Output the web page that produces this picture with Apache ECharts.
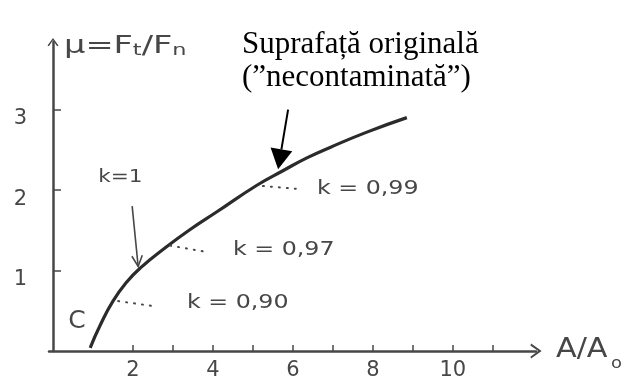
<!DOCTYPE html>
<html><head><meta charset="utf-8">
<script src="https://cdn.jsdelivr.net/npm/echarts@6/dist/echarts.min.js"></script>
<style>html,body{margin:0;padding:0;background:#fff}#c{width:628px;height:381px}</style>
</head><body><div id="c"></div>
<script>
// Friction coefficient vs. relative contact area
const areaRatio = [0.93, 1.18, 1.50, 1.85, 2.18, 2.80, 3.43, 4.10, 5.10, 5.75, 6.35, 6.93, 7.85, 8.85];
const friction  = [0.04, 0.32, 0.62, 0.86, 1.03, 1.28, 1.51, 1.73, 2.06, 2.24, 2.40, 2.53, 2.72, 2.90];

const xTicks = [2, 3, 4, 5, 6, 7, 8, 9, 10, 11];
const xTickLabels = [2, 4, 6, 8, 10];
const yTicks = [1, 2, 3];

// k annotations: dotted leader from the curve, then the text
const kLabels      = ['k = 0,90', 'k = 0,97', 'k = 0,99'];
const kLeaderStart = [[1.63, 0.62], [2.93, 1.31], [5.25, 2.05]];
const kLeaderEnd   = [[2.48, 0.56], [3.85, 1.23], [6.23, 2.01]];
const kTextPos     = [[3.35, 0.59], [4.50, 1.25], [6.60, 2.01]];

const kOneText = 'k=1';
const kOneTextPos = [1.13, 2.16];
const kOneArrow = [[1.98, 1.80], [2.13, 1.05]];

const pointC = 'C';
const pointCPos = [0.38, 0.37];

const noteLines = ['Suprafață originală', '(”necontaminată”)'];
const noteArrow = [[5.88, 3.00], [5.63, 2.26]];

const ink = '#474747';
const hand = '"DejaVu Sans", sans-serif';
const chevron = 'path://M0,14 L10,0 L20,14 L17.5,15 L10,4.5 L2.5,15 Z';

const chart = echarts.init(document.getElementById('c'), null, { renderer: 'canvas' });

const leaderData = kLeaderStart.map((s, i) => [{ coord: s }, { coord: kLeaderEnd[i] }]);

chart.setOption({
  animation: false,
  grid: { left: 49, right: 92, top: 42, bottom: 28 },
  xAxis: {
    type: 'value', min: -0.1, max: 12.08,
    axisLine: {
      lineStyle: { color: ink, width: 2.5 },
      symbol: ['none', chevron],
      symbolSize: [15, 12]
    },
    axisTick: { show: true, inside: true, length: 6, customValues: xTicks, lineStyle: { color: ink, width: 1.5 } },
    axisLabel: { customValues: xTickLabels, margin: 9, fontSize: 21, color: ink, fontFamily: hand },
    splitLine: { show: false }
  },
  yAxis: {
    type: 'value', min: 0, max: 3.84,
    axisLine: {
      show: true,
      lineStyle: { color: ink, width: 2.5 },
      symbol: ['none', chevron],
      symbolSize: [11, 10]
    },
    axisTick: { show: true, inside: true, length: 8, customValues: yTicks, lineStyle: { color: ink, width: 1.5 } },
    axisLabel: { customValues: yTicks, margin: 22, fontSize: 21, color: ink, fontFamily: hand, verticalAlign: 'top', lineHeight: 18 },
    splitLine: { show: false }
  },
  series: [{
    type: 'line',
    data: areaRatio.map((x, i) => [x, friction[i]]),
    smooth: 0.5,
    showSymbol: false,
    lineStyle: { color: '#2b2b2b', width: 3.2 },
    markLine: {
      silent: true,
      symbol: ['none', 'none'],
      label: { show: false },
      lineStyle: { color: ink, width: 2, type: [1, 7], cap: 'round' },
      data: leaderData
    }
  }]
});

const px = p => chart.convertToPixel({ gridIndex: 0 }, p);

const g = [];

function handText(text, p, size, sx) {
  return { type: 'text', x: p[0], y: p[1], scaleX: sx,
    style: { text: text, x: 0, y: 0, font: size + 'px ' + hand, fill: ink, verticalAlign: 'middle' } };
}

kLabels.forEach((t, i) => g.push(handText(t, px(kTextPos[i]), 19, 1.25)));
g.push(handText(kOneText, px(kOneTextPos), 18, 1.2));
g.push(handText(pointC, px(pointCPos), 25, 1));

(function () {
  // thin arrow pointing at k = 1
  const a = px(kOneArrow[0]), b = px(kOneArrow[1]);
  const ang = Math.atan2(b[1] - a[1], b[0] - a[0]);
  const L = 12, w = 0.45;
  g.push({ type: 'line', shape: { x1: a[0], y1: a[1], x2: b[0], y2: b[1] }, style: { stroke: ink, lineWidth: 1.6 } });
  g.push({ type: 'polyline', shape: { points: [
    [b[0] - L * Math.cos(ang - w), b[1] - L * Math.sin(ang - w)], b,
    [b[0] - L * Math.cos(ang + w), b[1] - L * Math.sin(ang + w)]] },
    style: { stroke: ink, lineWidth: 1.6, fill: null } });

  // bold arrow from the note to the curve
  const s = px(noteArrow[0]), e = px(noteArrow[1]);
  const an = Math.atan2(e[1] - s[1], e[0] - s[0]);
  const H = 20, W = 11;
  const bx = e[0] - H * Math.cos(an), by = e[1] - H * Math.sin(an);
  g.push({ type: 'line', shape: { x1: s[0], y1: s[1], x2: bx, y2: by }, style: { stroke: '#000', lineWidth: 2 } });
  g.push({ type: 'polygon', shape: { points: [e,
    [bx + W * Math.sin(an), by - W * Math.cos(an)],
    [bx - W * Math.sin(an), by + W * Math.cos(an)]] }, style: { fill: '#000' } });
})();

// note text
g.push({ type: 'text', style: { text: noteLines[0], x: 242, y: 60, font: '31px "Liberation Serif", serif', fill: '#000', verticalAlign: 'bottom' } });
g.push({ type: 'text', style: { text: noteLines[1], x: 242, y: 93, font: '31px "Liberation Serif", serif', fill: '#000', verticalAlign: 'bottom' } });

// axis names
g.push({ type: 'text', x: 64, y: 47, scaleX: 1.4, style: {
  text: 'μ={m|F}{s|t}{m|/F}{s|n}', x: 0, y: 0, verticalAlign: 'middle',
  fill: ink, font: '24px ' + hand,
  rich: { m: { fontSize: 24, fontFamily: hand, fill: ink }, s: { fontSize: 16, fontFamily: hand, fill: ink, padding: [8, 0, 0, 0] } }
} });
g.push({ type: 'text', x: 556, y: 350, scaleX: 1.12, style: {
  text: 'A/A{s|o}', x: 0, y: 0, verticalAlign: 'middle',
  fill: ink, font: '27px ' + hand,
  rich: { s: { fontSize: 16, fontFamily: hand, fill: ink, padding: [28, 0, 0, 3] } }
} });

chart.setOption({ graphic: g });
</script>
</body></html>
